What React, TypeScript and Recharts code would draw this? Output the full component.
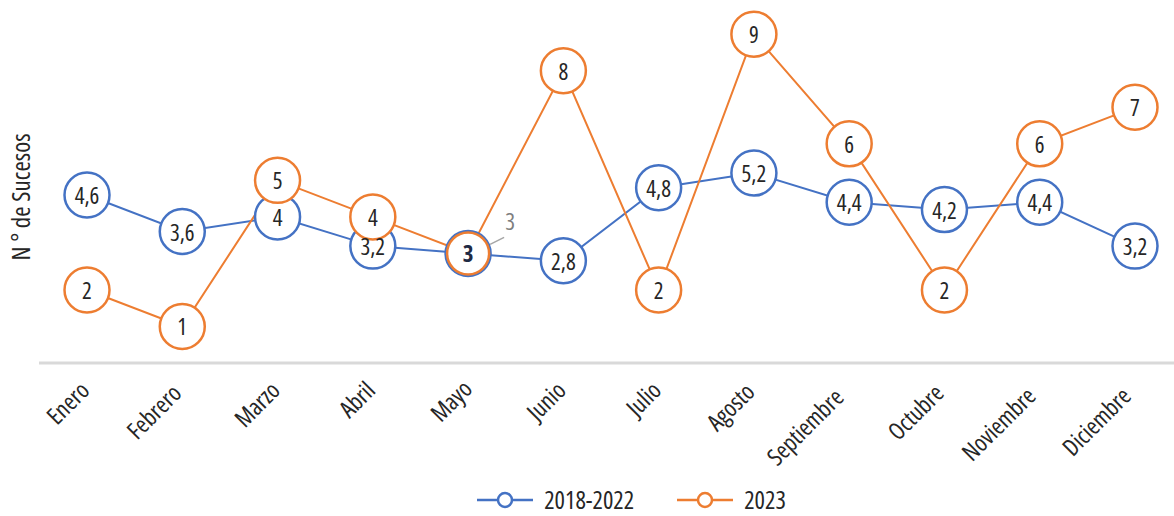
import React from 'react';
import { LineChart, Line, XAxis, YAxis, Legend } from 'recharts';

const months = ['Enero', 'Febrero', 'Marzo', 'Abril', 'Mayo', 'Junio', 'Julio', 'Agosto', 'Septiembre', 'Octubre', 'Noviembre', 'Diciembre'];
const serie20182022 = [4.6, 3.6, 4, 3.2, 3, 2.8, 4.8, 5.2, 4.4, 4.2, 4.4, 3.2];
const serie2023 = [2, 1, 5, 4, 3, 8, 2, 9, 6, 2, 6, 7];
const seriesNames = ['2018-2022', '2023'];

const BLUE = '#4472C4';
const ORANGE = '#ED7D31';
const FONT = '"Open Sans", sans-serif';
const TEXT = '#262626';
const COND: React.CSSProperties = { fontStretch: 'condensed' };

const data = months.map((m, i) => ({ month: m, a: serie20182022[i], b: serie2023[i] }));

const fmt = (v: number) => String(v).replace('.', ',');
const overlap = (i: number) => serie20182022[i] === serie2023[i];

const makeDot = (color: string, isTop: boolean) => (props: any) => {
  const { cx, cy, index } = props;
  const r = isTop && overlap(index) ? 21 : 22.5;
  return <circle key={`d-${color}-${index}`} cx={cx} cy={cy} r={r} fill="#fff" stroke={color} strokeWidth={2.5} />;
};

const makeLabel = (isTop: boolean) => (props: any) => {
  const { x, y, value, index } = props;
  if (overlap(index)) {
    if (isTop) {
      return (
        <text key={`l-${index}`} x={x} y={y} textAnchor="middle" dominantBaseline="central" fontFamily={FONT} fontSize={23} fontWeight="bold" fill="#1F2A44" style={COND}>
          {fmt(value)}
        </text>
      );
    }
    return (
      <g key={`l-${index}`}>
        <line x1={x + 22} y1={y - 9} x2={x + 36} y2={y - 16} stroke="#A6A6A6" strokeWidth={1.5} />
        <text x={x + 42} y={y - 32} textAnchor="middle" dominantBaseline="central" fontFamily={FONT} fontSize={23} fill="#7F7F7F" style={COND}>
          {fmt(value)}
        </text>
      </g>
    );
  }
  return (
    <text key={`l-${index}`} x={x} y={y} textAnchor="middle" dominantBaseline="central" fontFamily={FONT} fontSize={23} fill={TEXT} style={COND}>
      {fmt(value)}
    </text>
  );
};

const MonthTick = (props: any) => {
  const { x, y, payload } = props;
  const extra = String(payload.value).length - 5;
  const tx = x + 4 - 1.6 * extra;
  const ty = y + 21 + 1.4 * extra;
  return (
    <text x={tx} y={ty} transform={`rotate(-45 ${tx} ${ty})`} textAnchor="end" fontFamily={FONT} fontSize={24} fill={TEXT} style={COND}>
      {payload.value}
    </text>
  );
};

const LegendIcon = ({ color }: { color: string }) => (
  <svg width={56} height={20} style={{ display: 'block' }}>
    <line x1={0} y1={10} x2={56} y2={10} stroke={color} strokeWidth={2.5} />
    <circle cx={28} cy={10} r={7} fill="#fff" stroke={color} strokeWidth={2.5} />
  </svg>
);

const legendText: React.CSSProperties = { marginLeft: 11, fontFamily: FONT, fontSize: 24.5, lineHeight: 'normal', color: TEXT, fontStretch: 'condensed', whiteSpace: 'nowrap' };

const renderLegend = () => (
  <div style={{ width: 1174, height: 44, display: 'flex', justifyContent: 'center', alignItems: 'flex-end', paddingLeft: 89, boxSizing: 'border-box' }}>
    <div style={{ display: 'flex', alignItems: 'center', marginRight: 43 }}>
      <LegendIcon color={BLUE} />
      <span style={legendText}>{seriesNames[0]}</span>
    </div>
    <div style={{ display: 'flex', alignItems: 'center' }}>
      <LegendIcon color={ORANGE} />
      <span style={legendText}>{seriesNames[1]}</span>
    </div>
  </div>
);

const YLabel = () => (
  <text x={20} y={197} transform="rotate(-90 20 197)" textAnchor="middle" dominantBaseline="central" fontFamily={FONT} fontSize={25} fill={TEXT} style={COND}>
    N ° de Sucesos
  </text>
);

export default function App() {
  return (
    <div style={{ position: 'absolute', left: 0, top: 0, width: 1174, height: 516, overflow: 'hidden', background: '#fff' }}>
      <LineChart width={1183} height={516} data={data} margin={{ top: 16, right: 0, bottom: 0, left: 0 }}>
        <XAxis
          dataKey="month"
          interval={0}
          padding={{ left: 48, right: 48 }}
          axisLine={{ stroke: '#D9D9D9', strokeWidth: 3 }}
          tickLine={false}
          tick={<MonthTick />}
          height={109}
        />
        <YAxis width={39} domain={[0, 9.5]} tick={false} axisLine={false} tickLine={false} label={<YLabel />} />
        <Legend verticalAlign="bottom" align="left" content={renderLegend} wrapperStyle={{ left: 0, width: 1174, height: 44 }} />
        <Line
          dataKey="a"
          name={seriesNames[0]}
          stroke={BLUE}
          strokeWidth={2}
          dot={makeDot(BLUE, false)}
          activeDot={false}
          label={makeLabel(false)}
          isAnimationActive={false}
        />
        <Line
          dataKey="b"
          name={seriesNames[1]}
          stroke={ORANGE}
          strokeWidth={2}
          dot={makeDot(ORANGE, true)}
          activeDot={false}
          label={makeLabel(true)}
          isAnimationActive={false}
        />
      </LineChart>
    </div>
  );
}
